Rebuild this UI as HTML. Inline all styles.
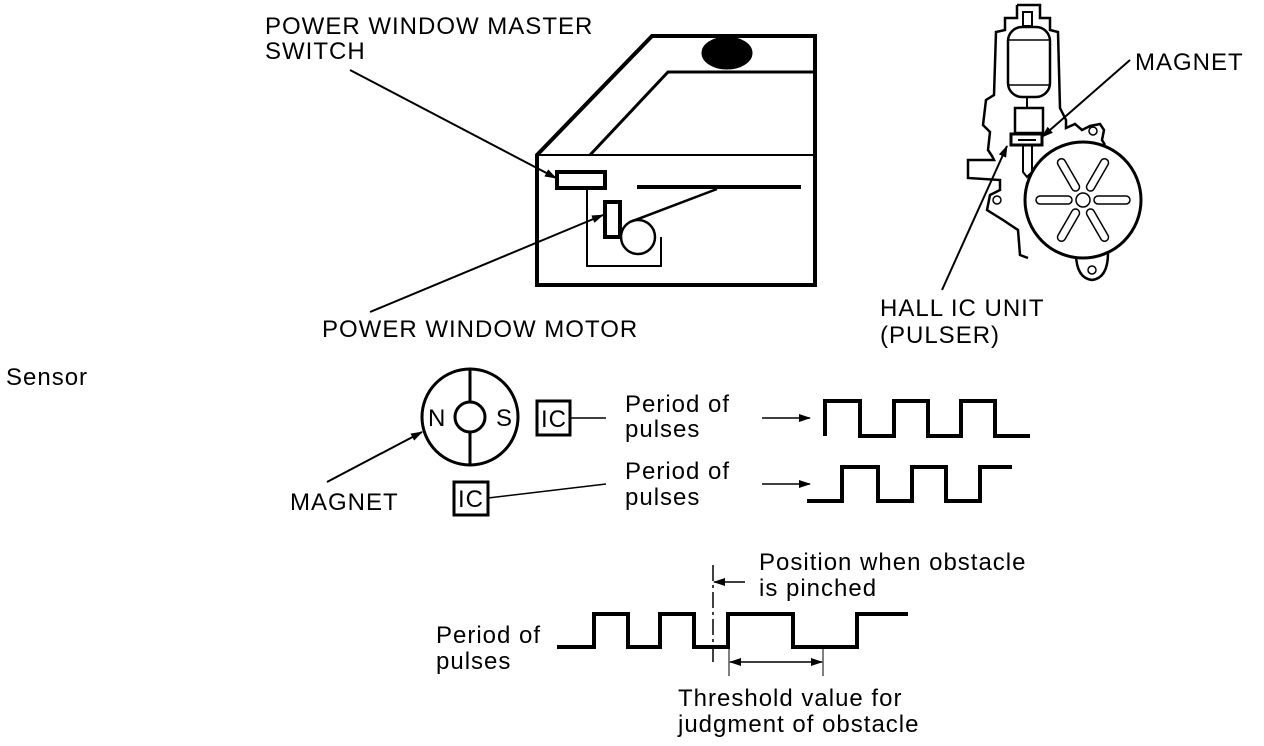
<!DOCTYPE html>
<html><head><meta charset="utf-8"><style>
html,body{margin:0;padding:0;background:#fff;}
svg{display:block}
text{font-family:"Liberation Sans",Arial,sans-serif;font-size:24px;letter-spacing:1px;fill:#000}
</style></head><body>
<svg width="1264" height="746" viewBox="0 0 1264 746" xmlns="http://www.w3.org/2000/svg">
<defs>
<marker id="ah" markerWidth="12" markerHeight="8" refX="11" refY="4" orient="auto" markerUnits="userSpaceOnUse">
<path d="M0,0 L12,4 L0,8 z" fill="#000"/></marker>
</defs>
<g fill="none" stroke="#000">
<!-- door -->
<path d="M537,155 L652,36 L815,36 L815,285 L537,285 Z" stroke-width="4"/>
<line x1="537" y1="155" x2="815" y2="155" stroke-width="2"/>
<path d="M590,155 L668,72 L815,72" stroke-width="3"/>
<ellipse cx="727" cy="53" rx="25" ry="16" fill="#000"/>
<rect x="557" y="172" width="48" height="16" stroke-width="4"/>
<path d="M587,188 L587,266 L661,266 L661,237" stroke-width="2"/>
<rect x="605" y="202" width="15" height="35" stroke-width="4"/>
<circle cx="638" cy="237" r="17" stroke-width="2.5"/>
<line x1="637" y1="187" x2="801" y2="187" stroke-width="4"/>
<line x1="630" y1="222" x2="717" y2="189" stroke-width="2.5"/>
<line x1="350" y1="70" x2="556" y2="178" stroke-width="2" marker-end="url(#ah)"/>
<line x1="370" y1="312" x2="603" y2="215" stroke-width="2" marker-end="url(#ah)"/>

<!-- motor -->
<path d="M1017,5 L1040,5 L1040,18 L1050,18 L1050,30 L1058,32 L1060,108 L1066,120 L1066,128 L1075,124 L1082,130 L1090,126 L1100,124 L1104,130 L1102,140 L1105,145" stroke-width="2.5"/>
<path d="M1017,5 L1017,18 L1005,18 L1005,30 L996,32 L994,95 L986,100 L983,125 L990,132 L988,150 L992,156 L994,160 L968,160 L968,178 L1000,180 L1000,190 L990,195 L987,210 L1003,220 L1018,230 L1020,255 L1028,258" stroke-width="2.5"/>
<circle cx="997" cy="200" r="4" stroke-width="1.5"/>
<circle cx="1093" cy="131" r="4" stroke-width="1.5"/>
<path d="M1076,253 Q1076,278 1092,280 Q1108,278 1108,253" stroke-width="2.5"/>
<circle cx="1092" cy="270" r="4" stroke-width="1.5"/>
<circle cx="1083" cy="200" r="58" stroke-width="3" fill="#fff"/>
<circle cx="1083" cy="200" r="7" stroke-width="1.5"/>
<g stroke-width="1.5">
<rect x="1036" y="196" width="36" height="8" rx="4"/>
<rect x="1094" y="196" width="36" height="8" rx="4"/>
<rect x="1036" y="196" width="36" height="8" rx="4" transform="rotate(60 1083 200)"/>
<rect x="1094" y="196" width="36" height="8" rx="4" transform="rotate(60 1083 200)"/>
<rect x="1036" y="196" width="36" height="8" rx="4" transform="rotate(-60 1083 200)"/>
<rect x="1094" y="196" width="36" height="8" rx="4" transform="rotate(-60 1083 200)"/>
</g>
<rect x="1023" y="12" width="9" height="14" stroke-width="2"/>
<rect x="1008" y="27" width="42" height="70" rx="14" stroke-width="2.5"/>
<line x1="1008" y1="40" x2="1050" y2="40" stroke-width="1.5"/>
<line x1="1008" y1="85" x2="1050" y2="85" stroke-width="1.5"/>
<line x1="1027" y1="97" x2="1027" y2="108" stroke-width="2"/>
<rect x="1015" y="108" width="28" height="25" stroke-width="2.5"/>
<rect x="1011" y="134" width="31" height="11" stroke-width="3"/>
<line x1="1018" y1="140" x2="1036" y2="140" stroke-width="2"/>
<path d="M1023,145 L1023,172 L1027,177 L1032,172 L1032,145" stroke-width="2"/>
<line x1="1130" y1="60" x2="1042" y2="137" stroke-width="2" marker-end="url(#ah)"/>
<line x1="942" y1="290" x2="1007" y2="146" stroke-width="2" marker-end="url(#ah)"/>

<!-- sensor -->
<circle cx="470" cy="417" r="48" stroke-width="3"/>
<circle cx="470" cy="417" r="15" stroke-width="3"/>
<line x1="470" y1="369" x2="470" y2="402" stroke-width="3"/>
<line x1="470" y1="432" x2="470" y2="465" stroke-width="3"/>
<rect x="537" y="401" width="33" height="34" stroke-width="3"/>
<line x1="570" y1="418" x2="606" y2="418" stroke-width="1.5"/>
<rect x="454" y="482" width="34" height="33" stroke-width="3"/>
<line x1="488" y1="498" x2="606" y2="484" stroke-width="1.5"/>
<line x1="327" y1="482" x2="422" y2="432" stroke-width="2" marker-end="url(#ah)"/>
<line x1="762" y1="418" x2="810" y2="418" stroke-width="1.5" marker-end="url(#ah)"/>
<line x1="762" y1="484" x2="810" y2="484" stroke-width="1.5" marker-end="url(#ah)"/>
<path d="M825,436 L825,401 L860,401 L860,436 L894,436 L894,401 L928,401 L928,436 L961,436 L961,401 L995,401 L995,436 L1030,436" stroke-width="4"/>
<path d="M807,501 L842,501 L842,467 L878,467 L878,501 L912,501 L912,467 L946,467 L946,501 L980,501 L980,467 L1012,467" stroke-width="4"/>

<!-- bottom -->
<path d="M557,647 L594,647 L594,614 L628,614 L628,647 L660,647 L660,614 L694,614 L694,647 L728,647 L728,614 L793,614 L793,647 L857,647 L857,614 L908,614" stroke-width="4"/>
<line x1="713" y1="565" x2="713" y2="662" stroke-width="1.5" stroke-dasharray="16,4,3,4"/>
<line x1="745" y1="582" x2="714" y2="582" stroke-width="1.5" marker-end="url(#ah)"/>
<line x1="729" y1="649" x2="729" y2="676" stroke-width="1"/>
<line x1="823" y1="649" x2="823" y2="676" stroke-width="1"/>
<line x1="776" y1="662" x2="730" y2="662" stroke-width="1.5" marker-end="url(#ah)"/>
<line x1="776" y1="662" x2="822" y2="662" stroke-width="1.5" marker-end="url(#ah)"/>
</g>
<text x="265" y="34">POWER WINDOW MASTER</text>
<text x="265" y="59">SWITCH</text>
<text x="322" y="337">POWER WINDOW MOTOR</text>
<text x="1135" y="70">MAGNET</text>
<text x="880" y="316">HALL IC UNIT</text>
<text x="880" y="343">(PULSER)</text>
<text x="6" y="385">Sensor</text>
<text x="428" y="426">N</text>
<text x="496" y="426">S</text>
<text x="541" y="427">IC</text>
<text x="458" y="507">IC</text>
<text x="290" y="510">MAGNET</text>
<text x="625" y="412">Period of</text>
<text x="625" y="437">pulses</text>
<text x="625" y="479">Period of</text>
<text x="625" y="505">pulses</text>
<text x="759" y="570">Position when obstacle</text>
<text x="759" y="596">is pinched</text>
<text x="436" y="643">Period of</text>
<text x="436" y="669">pulses</text>
<text x="678" y="706">Threshold value for</text>
<text x="678" y="732">judgment of obstacle</text>
</svg>
</body></html>
